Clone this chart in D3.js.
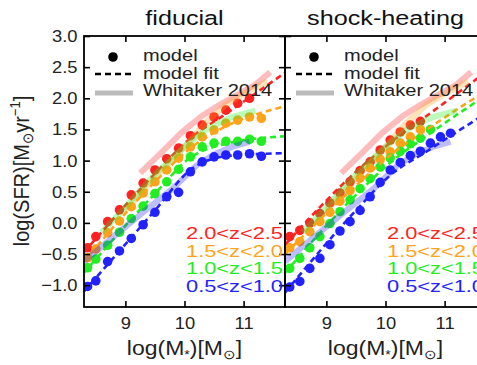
<!DOCTYPE html>
<html>
<head>
<meta charset="utf-8">
<script src="https://cdn.jsdelivr.net/npm/d3@7"></script>
<style>
  body { margin: 0; background: #fff; }
  svg { display: block; font-family: "Liberation Sans", Arial, sans-serif; }
</style>
</head>
<body>
<svg width="477" height="365"></svg>
<script>
// redshift bins
var bins = ["2.0<z<2.5", "1.5<z<2.0", "1.0<z<1.5", "0.5<z<1.0"];
var binColors = ["#ff2222", "#ffa31a", "#22ee22", "#2222ff"];

// fiducial model points (log M*, log SFR)
var massFid = [8.36, 8.5, 8.7, 8.9, 9.1, 9.3, 9.5, 9.7, 9.9, 10.1, 10.3, 10.5, 10.7, 10.9, 11.1, 11.3];
var fidRed    = [-0.40, -0.22, 0.02, 0.21, 0.45, 0.64, 0.85, 1.03, 1.20, 1.40, 1.57, 1.70, 1.81, 1.92, 2.00];
var fidOrange = [-0.56, -0.42, -0.16, 0.03, 0.26, 0.48, 0.66, 0.85, 1.04, 1.22, 1.38, 1.49, 1.60, 1.65, 1.70, 1.68];
var fidGreen  = [-0.72, -0.58, -0.36, -0.15, 0.07, 0.27, 0.47, 0.66, 0.86, 1.06, 1.22, 1.28, 1.31, 1.31, 1.34, 1.31];
var fidBlue   = [-1.02, -0.93, -0.62, -0.45, -0.25, -0.03, 0.17, 0.42, 0.49, 0.82, 0.98, 1.06, 1.09, 1.09, 1.11, 1.07];

// shock-heating model points
var massShock = [8.38, 8.55, 8.72, 8.89, 9.06, 9.23, 9.40, 9.57, 9.74, 9.91, 10.08, 10.25, 10.42, 10.59, 10.76, 10.93, 11.1];
var shockRed    = [-0.22, -0.12, 0.00, 0.15, 0.32, 0.48, 0.66, 0.84, 0.98, 1.17, 1.33, 1.46, 1.57, 1.63];
var shockOrange = [-0.40, -0.30, -0.14, 0.02, 0.17, 0.35, 0.52, 0.72, 0.88, 1.02, 1.14, 1.28, 1.38, 1.50];
var shockGreen  = [-0.73, -0.57, -0.40, -0.22, -0.01, 0.18, 0.37, 0.55, 0.71, 0.90, 1.04, 1.15, 1.27, 1.36, 1.50];
var shockBlue   = [-1.03, -0.94, -0.73, -0.57, -0.35, -0.13, 0.02, 0.20, 0.42, 0.65, 0.85, 0.97, 1.08, 1.15, 1.28, 1.38, 1.44];

// model fits, sampled at these masses
var fitMass = [8.3, 9.5, 10.1, 10.7, 11.7];
var fitFid = [
  [-0.47, 0.79, 1.36, 1.75, 2.41],
  [-0.62, 0.66, 1.20, 1.55, 1.87],
  [-0.80, 0.47, 1.05, 1.27, 1.39],
  [-1.10, 0.20, 0.85, 1.07, 1.12]
];
var fitShock = [
  [-0.35, 0.82, 1.30, 1.72, 2.42],
  [-0.50, 0.60, 1.10, 1.50, 2.12],
  [-0.80, 0.45, 0.98, 1.40, 2.05],
  [-1.12, 0.20, 0.78, 1.15, 1.76]
];

// Whitaker 2014 observed relations (same in both panels)
var whitMass = [
  [9.25, 9.6, 9.95, 10.3, 10.6, 10.9, 11.2, 11.45],
  [9.0, 9.5, 10.0, 10.35, 10.7, 11.05, 11.4],
  [8.6, 9.0, 9.5, 10.0, 10.4, 10.8, 11.2],
  [8.3, 8.8, 9.3, 9.8, 10.2, 10.5, 10.8, 11.1]
];
var whitSfr = [
  [0.80, 1.12, 1.45, 1.72, 1.90, 2.06, 2.22, 2.42],
  [0.20, 0.72, 1.22, 1.60, 1.90, 2.10, 2.27],
  [-0.15, 0.25, 0.78, 1.22, 1.52, 1.70, 1.80],
  [-0.62, -0.22, 0.17, 0.55, 0.92, 1.10, 1.22, 1.30]
];

var yTicks = [-1.0, -0.5, 0.0, 0.5, 1.0, 1.5, 2.0, 2.5, 3.0];
var xTicks = [9, 10, 11];

var panels = [
  { title: "fiducial", left: 84, mass: massFid, pts: [fidRed, fidOrange, fidGreen, fidBlue], fit: fitFid, labels: true },
  { title: "shock-heating", left: 285, mass: massShock, pts: [shockRed, shockOrange, shockGreen, shockBlue], fit: fitShock, labels: false }
];

var svg = d3.select("svg");
var pw = 201, yTop = 36, yBot = 307;
var y = d3.scaleLinear().domain([-1.35, 3.0]).range([yBot, yTop]);
var fmt = function (d) { return d3.format(".1f")(d).replace("-", "\u2212"); };

// the original figure is a bit wider than tall, so text is stretched sideways
function addText(x, yy, size, sx) {
  return svg.append("text")
    .attr("transform", "translate(" + x + "," + yy + ") scale(" + sx + ",1)")
    .attr("font-size", size).attr("fill", "#222");
}

panels.forEach(function (p, i) {
  var x = d3.scaleLinear().domain([8.3, 11.7]).range([p.left, p.left + pw]);
  var line = d3.line().x(function (d) { return x(d[0]); }).y(function (d) { return y(d[1]); });

  svg.append("clipPath").attr("id", "clip" + i)
    .append("rect").attr("x", p.left).attr("y", yTop).attr("width", pw).attr("height", yBot - yTop);
  var g = svg.append("g").attr("clip-path", "url(#clip" + i + ")");

  // model points
  p.pts.forEach(function (vals, k) {
    g.selectAll(".pt" + k).data(vals).enter().append("circle")
      .attr("cx", function (d, j) { return x(p.mass[j]); })
      .attr("cy", function (d) { return y(d); })
      .attr("r", 4.8)
      .attr("fill", binColors[k]);
  });

  // fits
  p.fit.forEach(function (vals, k) {
    g.append("path")
      .attr("d", line.curve(d3.curveMonotoneX)(fitMass.map(function (m, j) { return [m, vals[j]]; })))
      .attr("fill", "none").attr("stroke", binColors[k])
      .attr("stroke-width", 2.6).attr("stroke-dasharray", "6,4");
  });

  // Whitaker 2014
  whitMass.forEach(function (ms, k) {
    g.append("path")
      .attr("d", line.curve(d3.curveLinear)(ms.map(function (m, j) { return [m, whitSfr[k][j]]; })))
      .attr("fill", "none").attr("stroke", binColors[k]).attr("stroke-opacity", 0.3)
      .attr("stroke-width", 6).attr("stroke-linecap", "butt");
  });

  // axes, ticks inward on all sides
  var ax = svg.append("g");
  ax.append("g").attr("transform", "translate(0," + yBot + ")")
    .call(d3.axisBottom(x).tickValues(xTicks).tickSize(-6).tickPadding(10).tickFormat(d3.format("d")));
  ax.append("g").attr("transform", "translate(0," + yTop + ")")
    .call(d3.axisTop(x).tickValues(xTicks).tickSize(-6).tickFormat(""));
  ax.append("g").attr("transform", "translate(" + p.left + ",0)")
    .call(d3.axisLeft(y).tickValues(yTicks).tickSize(-6).tickPadding(6).tickFormat(p.labels ? fmt : ""));
  ax.append("g").attr("transform", "translate(" + (p.left + pw) + ",0)")
    .call(d3.axisRight(y).tickValues(yTicks).tickSize(-6).tickFormat(""));
  ax.selectAll(".domain").remove();
  ax.selectAll(".tick line").attr("stroke", "#000").attr("stroke-width", 1.6);
  ax.selectAll(".tick text").attr("fill", "#222").attr("font-size", 17)
    .attr("transform", "scale(1.08,1)")
    .attr("font-family", "Liberation Sans, Arial, sans-serif");

  svg.append("rect").attr("x", p.left).attr("y", yTop).attr("width", pw).attr("height", yBot - yTop)
    .attr("fill", "none").attr("stroke", "#000").attr("stroke-width", 1.8);

  // title
  addText(p.left + pw / 2, 25, 21, 1.2).attr("text-anchor", "middle").attr("fill", "#111").text(p.title);

  // legend
  var lx = p.left + 11;
  svg.append("circle").attr("cx", lx + 18).attr("cy", 57).attr("r", 4.8).attr("fill", "#000");
  svg.append("line").attr("x1", lx).attr("x2", lx + 38).attr("y1", 74).attr("y2", 74)
    .attr("stroke", "#000").attr("stroke-width", 2.6).attr("stroke-dasharray", "6,4");
  svg.append("line").attr("x1", lx).attr("x2", lx + 38).attr("y1", 93).attr("y2", 93)
    .attr("stroke", "#bbb").attr("stroke-width", 5);
  var leg = ["model", "model fit", "Whitaker 2014"];
  leg.forEach(function (t, k) {
    addText(lx + 48, 61 + k * 17.5, 17, 1.18).text(t);
  });

  // redshift labels
  bins.forEach(function (b, k) {
    svg.append("text").attr("x", p.left + pw - 2).attr("y", 239 + k * 17.5)
      .attr("text-anchor", "end").attr("font-size", 17).attr("fill", binColors[k])
      .attr("textLength", 97).attr("lengthAdjust", "spacingAndGlyphs").text(b);
  });

  // x label
  var xl = addText(p.left + pw / 2, 355, 20, 1.15).attr("text-anchor", "middle");
  xl.append("tspan").text("log(M");
  xl.append("tspan").attr("font-size", 12).attr("dy", 4).text("*");
  xl.append("tspan").attr("dy", -4).text(")[M");
  xl.append("tspan").attr("font-size", 13).attr("dy", 4).text("\u2299");
  xl.append("tspan").attr("dy", -4).text("]");
});

// y label
var yl = svg.append("text").attr("transform", "translate(29,171) rotate(-90) scale(1,1.12)")
  .attr("text-anchor", "middle").attr("font-size", 20).attr("fill", "#222");
yl.append("tspan").text("log(SFR)[M");
yl.append("tspan").attr("font-size", 13).attr("dy", 4).text("\u2299");
yl.append("tspan").attr("dy", -4).text("yr");
yl.append("tspan").attr("font-size", 13).attr("dy", -8).text("\u22121");
yl.append("tspan").attr("dy", 8).text("]");
</script>
</body>
</html>
